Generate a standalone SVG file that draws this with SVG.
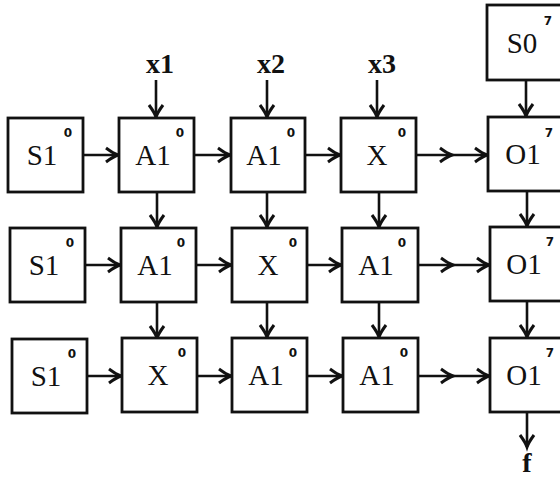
<svg xmlns="http://www.w3.org/2000/svg" width="560" height="481" viewBox="0 0 560 481">
  <style>
    .box { fill: #fff; stroke: #111; stroke-width: 2.8; }
    .lbl { font-family: "Liberation Serif", "DejaVu Serif", serif; font-size: 29px; fill: #111; text-anchor: middle; }
    .sup { font-family: "DejaVu Sans", "Liberation Sans", sans-serif; font-size: 12px; font-weight: bold; fill: #111; text-anchor: middle; }
    .inp { font-family: "Liberation Serif", "DejaVu Serif", serif; font-size: 28px; font-weight: bold; fill: #111; text-anchor: middle; }
    .wire { fill: none; stroke: #111; stroke-width: 2.6; marker-end: url(#head); }
    .wire2 { fill: none; stroke: #111; stroke-width: 2.6; marker-mid: url(#head); marker-end: url(#head); }
  </style>
  <defs>
    <marker id="head" markerUnits="userSpaceOnUse" viewBox="-14 -9 16 18" refX="0" refY="0" markerWidth="16" markerHeight="18" orient="auto" overflow="visible">
      <path d="M-12,-7 Q-4.5,-1.5 0,0 Q-4.5,1.5 -12,7" fill="none" stroke="#111" stroke-width="3" stroke-linejoin="miter"/>
    </marker>
  </defs>
  <rect width="560" height="481" fill="#fff"/>

  <!-- connectors -->
  <g id="connectors">
    <!-- inputs -->
    <line class="wire" x1="156" y1="80" x2="156" y2="117"/>
    <line class="wire" x1="267" y1="80" x2="267" y2="117"/>
    <line class="wire" x1="377" y1="80" x2="377" y2="117"/>
    <line class="wire" x1="526" y1="80" x2="526" y2="116"/>
    <!-- row 1 -->
    <line class="wire" x1="83" y1="155" x2="118" y2="155"/>
    <line class="wire" x1="194" y1="155" x2="230" y2="155"/>
    <line class="wire" x1="305" y1="155" x2="340" y2="155"/>
    <polyline class="wire2" points="416,155 452,155 487,155"/>
    <!-- row 1 to row 2 -->
    <line class="wire" x1="157" y1="192" x2="157" y2="227"/>
    <line class="wire" x1="267" y1="192" x2="267" y2="227"/>
    <line class="wire" x1="379" y1="192" x2="379" y2="227"/>
    <line class="wire" x1="527" y1="191" x2="527" y2="226"/>
    <!-- row 2 -->
    <line class="wire" x1="85" y1="265" x2="120" y2="265"/>
    <line class="wire" x1="196" y1="265" x2="231" y2="265"/>
    <line class="wire" x1="307" y1="265" x2="341" y2="265"/>
    <polyline class="wire2" points="418,265 453,265 489,265"/>
    <!-- row 2 to row 3 -->
    <line class="wire" x1="157" y1="302" x2="157" y2="338"/>
    <line class="wire" x1="267" y1="302" x2="267" y2="337"/>
    <line class="wire" x1="379" y1="302" x2="379" y2="337"/>
    <line class="wire" x1="527" y1="301" x2="527" y2="337"/>
    <!-- row 3 -->
    <line class="wire" x1="87" y1="376" x2="121" y2="376"/>
    <line class="wire" x1="197" y1="376" x2="231" y2="376"/>
    <line class="wire" x1="307" y1="376" x2="342" y2="376"/>
    <polyline class="wire2" points="418,376 453,376 489,376"/>
    <!-- output -->
    <line class="wire" x1="527" y1="412" x2="527" y2="447"/>
  </g>

  <!-- input and output labels -->
  <g id="inputs">
    <text class="inp" x="160" y="73">x1</text>
    <text class="inp" x="271" y="73">x2</text>
    <text class="inp" x="382" y="73">x3</text>
    <text class="inp" x="527" y="472">f</text>
  </g>

  <g id="s0"><rect class="box" x="487" y="5" width="75" height="75"/><text class="lbl" x="522" y="53">S0</text><text class="sup" x="548" y="25">7</text></g>

  <!-- row 1 -->
  <g id="r1c0"><rect class="box" x="8" y="118" width="75" height="74"/><text class="lbl" x="42" y="165">S1</text><text class="sup" x="68" y="137">0</text></g>
  <g id="r1c1"><rect class="box" x="119" y="118" width="75" height="74"/><text class="lbl" x="153" y="165">A1</text><text class="sup" x="180" y="137">0</text></g>
  <g id="r1c2"><rect class="box" x="231" y="118" width="74" height="74"/><text class="lbl" x="264" y="165">A1</text><text class="sup" x="291" y="137">0</text></g>
  <g id="r1c3"><rect class="box" x="341" y="118" width="75" height="74"/><text class="lbl" x="377" y="165">X</text><text class="sup" x="402" y="137">0</text></g>
  <g id="r1c4"><rect class="box" x="488" y="117" width="75" height="74"/><text class="lbl" x="523" y="164">O1</text><text class="sup" x="549" y="137">7</text></g>

  <!-- row 2 -->
  <g id="r2c0"><rect class="box" x="10" y="228" width="75" height="74"/><text class="lbl" x="44" y="275">S1</text><text class="sup" x="70" y="247">0</text></g>
  <g id="r2c1"><rect class="box" x="121" y="228" width="75" height="74"/><text class="lbl" x="155" y="275">A1</text><text class="sup" x="181" y="247">0</text></g>
  <g id="r2c2"><rect class="box" x="232" y="228" width="75" height="74"/><text class="lbl" x="268" y="275">X</text><text class="sup" x="293" y="247">0</text></g>
  <g id="r2c3"><rect class="box" x="342" y="228" width="76" height="74"/><text class="lbl" x="376" y="275">A1</text><text class="sup" x="402" y="247">0</text></g>
  <g id="r2c4"><rect class="box" x="490" y="227" width="75" height="74"/><text class="lbl" x="524" y="274">O1</text><text class="sup" x="550" y="246">7</text></g>

  <!-- row 3 -->
  <g id="r3c0"><rect class="box" x="12" y="339" width="75" height="74"/><text class="lbl" x="46" y="386">S1</text><text class="sup" x="72" y="358">0</text></g>
  <g id="r3c1"><rect class="box" x="122" y="338" width="75" height="74"/><text class="lbl" x="158" y="385">X</text><text class="sup" x="182" y="357">0</text></g>
  <g id="r3c2"><rect class="box" x="232" y="338" width="75" height="74"/><text class="lbl" x="266" y="385">A1</text><text class="sup" x="293" y="357">0</text></g>
  <g id="r3c3"><rect class="box" x="343" y="338" width="75" height="74"/><text class="lbl" x="377" y="385">A1</text><text class="sup" x="404" y="357">0</text></g>
  <g id="r3c4"><rect class="box" x="490" y="338" width="75" height="74"/><text class="lbl" x="524" y="385">O1</text><text class="sup" x="550" y="357">7</text></g>
</svg>
